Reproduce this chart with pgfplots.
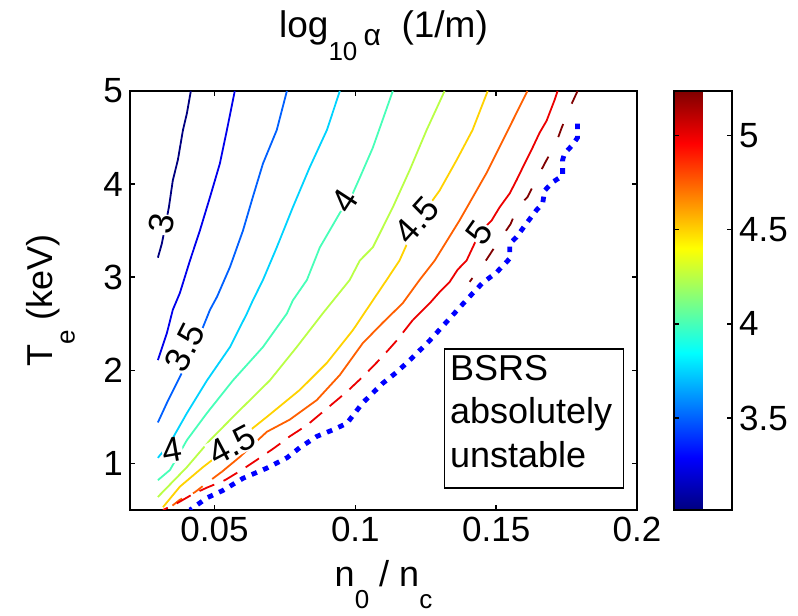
\documentclass[border=0pt]{standalone}
\usepackage{pgfplots}
\pgfplotsset{compat=1.18}
\usepackage{fontspec}
\setmainfont{Liberation Sans}
\newcommand{\fs}[1]{\fontsize{#1}{#1}\selectfont}
\newcommand{\msub}[1]{\raisebox{-0.6em}{\fs{13}#1}}
\definecolor{c300}{RGB}{0,0,128}
\definecolor{c325}{RGB}{0,0,236}
\definecolor{c350}{RGB}{0,96,255}
\definecolor{c375}{RGB}{0,211,255}
\definecolor{c400}{RGB}{71,255,184}
\definecolor{c425}{RGB}{185,255,70}
\definecolor{c450}{RGB}{255,210,0}
\definecolor{c475}{RGB}{255,95,0}
\definecolor{c500}{RGB}{236,0,0}
\definecolor{c525}{RGB}{128,0,0}
\begin{document}
\begin{tikzpicture}
\begin{axis}[name=main,
  scale only axis, width=253.5pt, height=209.5pt,
  xmin=0.02, xmax=0.2, ymin=0.5, ymax=5,
  xtick={0.05,0.1,0.15,0.2}, xticklabels={0.05,0.1,0.15,0.2},
  ytick={1,2,3,4,5}, yticklabels={1,2,3,4,5},
  tick align=inside, major tick length=2.5pt,
  axis line style={line width=1pt},
  every tick/.style={black, line width=0.8pt},
  ticklabel style={font=\fs{17.5}},
  /pgf/number format/assume math mode=true,
  xlabel={n\msub{0} / n\msub{c}},
  ylabel={T\msub{e} (keV)},
  title={log\raisebox{-0.6em}{\fs{13}10}\,\raisebox{-0.2em}{\fs{15}α}\ \ (1/m)},
  xlabel style={at={(axis description cs:0.5,-0.1838)}, anchor=base, font=\fs{18}},
  ylabel style={at={(axis description cs:-0.1519,0.5)}, anchor=base, font=\fs{18}},
  title style={at={(axis description cs:0.5,1.0979)}, anchor=base, font=\fs{18.5}},
  colorbar, colormap/jet, point meta min=3.013, point meta max=5.235,
  colorbar style={
    at={(parent axis.north east)}, anchor=north west, xshift=10pt,
    scale only axis, width=29pt, height=209.5pt,
    ytick={3.5,4,4.5,5}, yticklabels={3.5,4,4.5,5},
    ytick pos=both, yticklabel pos=right,
    tick align=inside, major tick length=2.5pt,
    axis line style={line width=1pt},
    every tick/.style={black, line width=0.8pt},
    ticklabel style={font=\fs{17.5}},
    /pgf/number format/assume math mode=true,
  },
]
% level 3.0
\addplot[c300, line width=0.9pt] coordinates {
(0.0416,5.0) (0.0402,4.76) (0.0388,4.58) (0.0370,4.26) (0.0352,4.04)
(0.0338,3.75) (0.0324,3.53) (0.0313,3.36) (0.0299,3.21)};
% level 3.25
\addplot[c325, line width=0.9pt] coordinates {
(0.0572,5.0) (0.0544,4.58) (0.0519,4.22) (0.0484,3.86) (0.0448,3.50)
(0.0413,3.18) (0.0377,2.83) (0.0352,2.65) (0.0331,2.40) (0.0299,2.11)};
% level 3.5
\addplot[c350, line width=0.9pt] coordinates {
(0.0757,5.0) (0.0721,4.58) (0.0672,4.22) (0.0636,3.86) (0.0601,3.50)
(0.0555,3.11) (0.0509,2.79) (0.0484,2.65) (0.0448,2.38) (0.0413,2.14)
(0.0377,1.93) (0.0331,1.65) (0.0299,1.44)};
% level 3.75
\addplot[c375, line width=0.9pt] coordinates {
(0.0945,5.0) (0.0899,4.58) (0.0838,4.18) (0.0778,3.75) (0.0721,3.32)
(0.0672,2.97) (0.0636,2.75) (0.0615,2.61) (0.0555,2.25) (0.0473,1.89)
(0.0402,1.54) (0.0342,1.22) (0.0299,1.06)};
% level 4.0
\addplot[c400, line width=0.9pt] coordinates {
(0.1133,5.0) (0.1097,4.69) (0.1062,4.39) (0.1016,4.07) (0.0991,3.90)
(0.0945,3.69) (0.0874,3.32) (0.0828,2.97) (0.0778,2.75) (0.0757,2.61)
(0.0672,2.25) (0.0565,1.89) (0.0473,1.54) (0.0402,1.25) (0.0342,0.93)
(0.0299,0.82)};
% level 4.25
\addplot[c425, line width=0.9pt] coordinates {
(0.1317,5.0) (0.1253,4.58) (0.1193,4.15) (0.1133,3.75) (0.1062,3.32)
(0.1016,3.18) (0.0980,2.97) (0.0884,2.61) (0.0792,2.25) (0.0696,1.89)
(0.0579,1.54) (0.0484,1.25) (0.0402,0.96) (0.0299,0.64)};
% level 4.5
\addplot[c450, line width=0.9pt] coordinates {
(0.1470,5.0) (0.1416,4.58) (0.1360,4.26) (0.1299,3.93) (0.1218,3.59)
(0.1157,3.18) (0.1111,2.97) (0.1062,2.75) (0.0991,2.43) (0.0899,2.08)
(0.0803,1.79) (0.0686,1.50) (0.0562,1.20) (0.0459,0.96) (0.0377,0.75)
(0.0317,0.53)};
% level 4.75
\addplot[c475, line width=0.9pt] coordinates {
(0.1611,5.0) (0.1537,4.55) (0.1466,4.12) (0.1370,3.61) (0.1282,3.18)
(0.1228,2.97) (0.1168,2.72) (0.1097,2.51) (0.1026,2.29) (0.0945,1.95)
(0.0863,1.68) (0.0767,1.47) (0.0686,1.34) (0.0590,1.07) (0.0526,0.91)};
\addplot[c475, line width=0.9pt, dash pattern=on 6pt off 6pt] coordinates {
(0.0526,0.91) (0.0473,0.79) (0.0430,0.69) (0.0377,0.61) (0.0331,0.50)};
% level 5.0
\addplot[c500, line width=0.9pt] coordinates {
(0.1718,5.0) (0.1707,4.90) (0.1679,4.68) (0.1654,4.55) (0.1629,4.39)
(0.1601,4.22) (0.1572,4.04) (0.1548,3.90) (0.1512,3.75) (0.1484,3.61)
(0.1441,3.48) (0.1423,3.36) (0.1395,3.18) (0.1363,3.08) (0.1335,2.95)
(0.1299,2.84) (0.1264,2.72) (0.1204,2.54)};
\addplot[c500, line width=0.9pt, dash pattern=on 8pt off 5pt] coordinates {
(0.1204,2.54) (0.1147,2.32) (0.1094,2.14) (0.1033,1.95) (0.0970,1.77)
(0.0899,1.59) (0.0828,1.41) (0.0767,1.29) (0.0714,1.17) (0.0661,1.06)
(0.0597,0.93) (0.0537,0.82) (0.0473,0.74) (0.0423,0.67) (0.0360,0.56)
(0.0317,0.50)};
% level 5.25
\addplot[c525, line width=0.9pt, dash pattern=on 7pt off 11pt] coordinates {
(0.1789,5.0) (0.1760,4.81) (0.1732,4.60) (0.1714,4.45) (0.1672,4.22)
(0.1650,4.09) (0.1611,3.86) (0.1576,3.75) (0.1551,3.57) (0.1494,3.32)
(0.1466,3.19) (0.1427,3.04) (0.1406,2.95)};
% absolute instability boundary
\addplot[blue, line width=2.4pt, line cap=butt, dash pattern=on 2.8pt off 3.4pt] coordinates {
(0.1789,4.65) (0.1789,4.50) (0.1771,4.42) (0.1743,4.33) (0.1736,4.26)
(0.1736,4.09) (0.1700,4.02) (0.1672,3.93) (0.1665,3.79) (0.1643,3.72)
(0.1608,3.58) (0.1572,3.43) (0.1548,3.36) (0.1548,3.20) (0.1501,3.05)
(0.1452,2.94) (0.1399,2.77) (0.1324,2.52) (0.1264,2.32) (0.1204,2.14)
(0.1147,1.98) (0.1097,1.86) (0.1026,1.65) (0.0970,1.43) (0.0920,1.36)
(0.0863,1.29) (0.0803,1.17) (0.0757,1.06) (0.0686,0.95) (0.0601,0.84)
(0.0530,0.71) (0.0473,0.63) (0.0413,0.50)};
% contour labels
\begin{scope}[every node/.style={fill=white, inner sep=0.3pt, font=\fs{17.5}}]
\node[rotate=79] at (axis cs:0.0312,3.57) {3};
\node[rotate=63] at (axis cs:0.0395,2.25) {3.5};
\node[rotate=57] at (axis cs:0.0962,3.82) {4};
\node[rotate=10] at (axis cs:0.0350,1.14) {4};
\node[rotate=48] at (axis cs:0.1218,3.61) {4.5};
\node[rotate=28] at (axis cs:0.0562,1.20) {4.5};
\node[rotate=55] at (axis cs:0.1441,3.48) {5};
\end{scope}
% annotation box
\draw[line width=0.8pt] (axis cs:0.1317,0.736) rectangle (axis cs:0.1952,2.227);
\node[anchor=base west, inner sep=0pt, font=\fs{18}] at (axis cs:0.1335,1.895) {BSRS};
\node[anchor=base west, inner sep=0pt, font=\fs{18}] at (axis cs:0.1335,1.433) {absolutely};
\node[anchor=base west, inner sep=0pt, font=\fs{18}] at (axis cs:0.1335,0.961) {unstable};
\end{axis}
\path (main.south west) ++(-65pt,-50pt) coordinate (bbA);
\path (main.north east) ++(80.5pt,45.5pt) coordinate (bbB);
\path (bbA) rectangle (bbB);
\end{tikzpicture}
\end{document}
